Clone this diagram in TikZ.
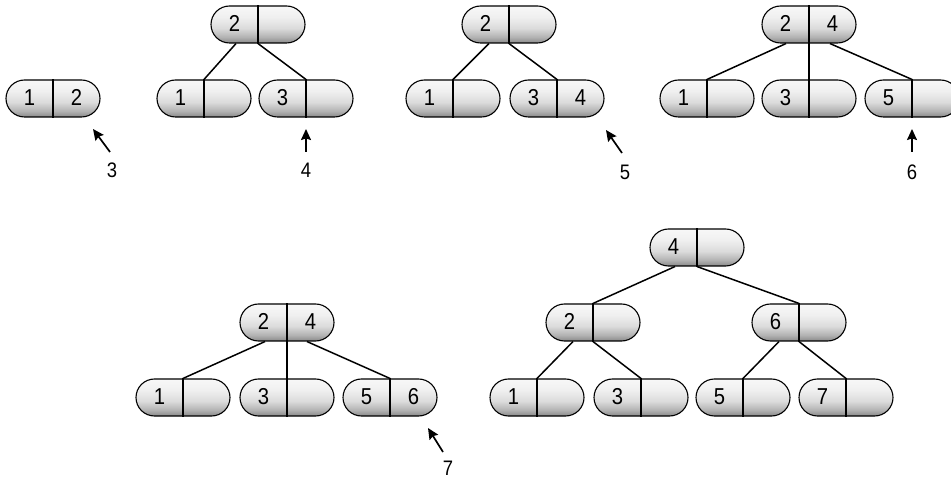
\documentclass[tikz,border=0pt]{standalone}
\usepackage{fontspec}
\setmainfont{Liberation Sans}[FakeStretch=0.88]
\usetikzlibrary{shapes.misc,arrows.meta,calc}
\pgfdeclareverticalshading{keyshade}{100bp}{color(0bp)=(black!46); color(25bp)=(black!46); color(33bp)=(black!30); color(45bp)=(black!14); color(60bp)=(black!6); color(75bp)=(black!3); color(100bp)=(black!3)}
\tikzset{
  keybox/.style={rounded rectangle, draw=black, line width=1.1pt, minimum width=94pt, minimum height=37pt, inner sep=0pt, shading=keyshade},
  divline/.style={line width=1.1pt},
  keytext/.style={inner sep=0pt, font=\fontsize{23pt}{24pt}\selectfont},
  edge/.style={line width=1.5pt},
  insarrow/.style={line width=1.7pt, -{Stealth[length=11pt,width=10pt,inset=1.5pt]}},
  steplabel/.style={inner sep=0pt, font=\fontsize{21pt}{22pt}\selectfont}
}
\newcommand{\keynode}[5]{%
  \node[keybox] (#1) at (#2,{#3+18.5}) {};
  \draw[divline] (#1.north) -- (#1.south);
  \node[keytext] (#1-l) at ($(#1.center)+(-23.5,-1)$) {#4};
  \node[keytext] (#1-r) at ($(#1.center)+(23.5,-1)$) {#5};
}
\begin{document}
\begin{tikzpicture}[x=1pt,y=-1pt]
\useasboundingbox (0,0) rectangle (951,478);
% tree 1
\keynode{a1}{53}{80}{1}{2}
% tree 2
\keynode{b0}{258}{6}{2}{}
\keynode{b1}{204}{80}{1}{}
\keynode{b2}{306}{80}{3}{}
% tree 3
\keynode{c0}{509}{6}{2}{}
\keynode{c1}{453}{80}{1}{}
\keynode{c2}{557}{80}{3}{4}
% tree 4
\keynode{d0}{809}{6}{2}{4}
\keynode{d1}{707}{80}{1}{}
\keynode{d2}{809}{80}{3}{}
\keynode{d3}{912}{80}{5}{}
% tree 5
\keynode{e0}{287}{304}{2}{4}
\keynode{e1}{183}{379}{1}{}
\keynode{e2}{287}{379}{3}{}
\keynode{e3}{390}{379}{5}{6}
% tree 6
\keynode{f0}{697}{229}{4}{}
\keynode{f1}{593}{304}{2}{}
\keynode{f2}{799}{304}{6}{}
\keynode{f3}{537}{379}{1}{}
\keynode{f4}{641}{379}{3}{}
\keynode{f5}{743}{379}{5}{}
\keynode{f6}{846}{379}{7}{}
% edges
\draw[edge] ($(b0.south)+(-22,0)$) -- (b1.north);
\draw[edge] (b0.south) -- (b2.north);
\draw[edge] ($(c0.south)+(-20,0)$) -- (c1.north);
\draw[edge] (c0.south) -- (c2.north);
\draw[edge] ($(d0.south)+(-23,0)$) -- (d1.north);
\draw[edge] (d0.south) -- (d2.north);
\draw[edge] ($(d0.south)+(21,0)$) -- (d3.north);
\draw[edge] ($(e0.south)+(-22,0)$) -- (e1.north);
\draw[edge] (e0.south) -- (e2.north);
\draw[edge] ($(e0.south)+(20,0)$) -- (e3.north);
\draw[edge] ($(f0.south)+(-22,0)$) -- (f1.north);
\draw[edge] (f0.south) -- (f2.north);
\draw[edge] ($(f1.south)+(-20,0)$) -- (f3.north);
\draw[edge] (f1.south) -- (f4.north);
\draw[edge] ($(f2.south)+(-20,0)$) -- (f5.north);
\draw[edge] (f2.south) -- (f6.north);
% insertion labels and arrows
\node[steplabel] (n3) at (112,170) {3};
\node[steplabel] (n4) at (306,170) {4};
\node[steplabel] (n5) at (625,172) {5};
\node[steplabel] (n6) at (912,172) {6};
\node[steplabel] (n7) at (448,468) {7};
\coordinate (t3) at (110,152); \coordinate (h3) at (93,129);
\coordinate (t4) at (306,152); \coordinate (h4) at (306,129);
\coordinate (t5) at (622,153); \coordinate (h5) at (606,130);
\coordinate (t6) at (912,152); \coordinate (h6) at (912,129);
\coordinate (t7) at (443,452); \coordinate (h7) at (428,428);
\draw[insarrow] (t3) -- (h3);
\draw[insarrow] (t4) -- (h4);
\draw[insarrow] (t5) -- (h5);
\draw[insarrow] (t6) -- (h6);
\draw[insarrow] (t7) -- (h7);
\end{tikzpicture}
\end{document}
